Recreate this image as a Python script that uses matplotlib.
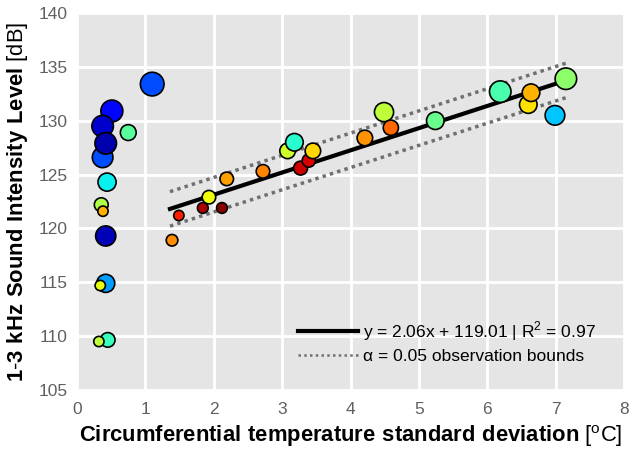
import matplotlib
matplotlib.use('Agg')
import matplotlib.pyplot as plt
from matplotlib.lines import Line2D
import numpy as np

plt.rcParams['font.family'] = 'Liberation Sans'
plt.rcParams['mathtext.fontset'] = 'custom'
plt.rcParams['mathtext.rm'] = 'Liberation Sans'
plt.rcParams['mathtext.bf'] = 'Liberation Sans:bold'

# temperature std dev [C], sound level [dB], marker size, colour value (jet)
temp_sd = [0.51, 0.375, 1.10, 0.375, 0.42, 0.75, 0.44, 0.355, 0.38, 0.42,
           0.42, 0.34, 0.45, 0.32, 1.39,
           1.49, 1.84, 2.12, 1.93, 2.19, 2.72, 3.27, 3.39, 3.45, 3.08, 3.18,
           4.21, 4.49, 4.59, 5.24, 6.19, 6.60, 6.64, 6.99, 7.15]
sound_db = [130.9, 129.5, 133.4, 126.6, 127.9, 128.9, 124.3, 122.2, 121.6, 119.3,
            114.9, 114.7, 109.65, 109.5, 118.9,
            121.2, 121.9, 121.9, 122.9, 124.6, 125.3, 125.6, 126.3, 127.2, 127.2, 128.0,
            128.4, 130.8, 129.35, 130.0, 132.7, 131.5, 132.6, 130.5, 133.9]
sizes = [250, 240, 290, 220, 240, 130, 170, 100, 55, 210,
         170, 55, 110, 55, 70,
         55, 60, 60, 95, 95, 95, 100, 90, 125, 125, 160,
         125, 190, 120, 160, 240, 160, 160, 200, 240]
cval = [0.13, 0.07, 0.2, 0.2, 0.04, 0.46, 0.36, 0.56, 0.72, 0.05,
        0.28, 0.63, 0.42, 0.58, 0.76,
        0.88, 0.96, 0.99, 0.64, 0.74, 0.77, 0.93, 0.92, 0.68, 0.6, 0.4,
        0.75, 0.58, 0.8, 0.48, 0.44, 0.67, 0.72, 0.32, 0.52]

slope, intercept, r2 = 2.06, 119.01, 0.97
bound = 1.6

fig = plt.figure(figsize=(6.3, 4.55), dpi=100)
ax = fig.add_axes([0.1222, 0.1429, 0.8683, 0.8285])
ax.set_facecolor('#e5e5e5')
for s in ax.spines.values():
    s.set_visible(False)
ax.grid(True, color='white', linewidth=2)
ax.set_axisbelow(True)

x = np.array(temp_sd)
fitx = np.array([x[x > 1.3].min() - 0.03, x.max() + 0.02])
fity = slope * fitx + intercept
ax.plot(fitx, fity, color='black', lw=3, zorder=2)
ax.plot(fitx, fity + bound, color='#707070', lw=2.5, ls=(0, (1, 1.2)), zorder=2)
ax.plot(fitx, fity - bound, color='#707070', lw=2.5, ls=(0, (1, 1.2)), zorder=2)

ax.scatter(temp_sd, sound_db, s=sizes, c=cval, cmap='jet', vmin=0, vmax=1,
           edgecolors='black', linewidths=1.2, zorder=3)

ax.set_xlim(0, 8)
ax.set_ylim(105, 140)
ax.set_xticks(range(0, 9))
ax.set_yticks(range(105, 141, 5))
ax.tick_params(length=0, labelsize=12.5, labelcolor='#606060')
ax.tick_params(axis='x', pad=9)
ax.tick_params(axis='y', pad=7)

ax.set_xlabel(r'$\mathbf{Circumferential\ temperature\ standard\ deviation}$ [$^{\rm o}$C]',
              fontsize=15.8, labelpad=4)
ax.set_ylabel(r'$\mathbf{1\text{-}3\ kHz\ Sound\ Intensity\ Level}$ [dB]',
              fontsize=15.8, labelpad=6)

handles = [Line2D([], [], color='black', lw=3),
           Line2D([], [], color='#707070', lw=1.8, ls=(0, (1, 1.3)))]
labels = ['y = %.2fx + %.2f | R$^2$ = %.2f' % (slope, intercept, r2),
          '\u03b1 = 0.05 observation bounds']
ax.legend(handles, labels, loc='lower right', bbox_to_anchor=(0.962, 0.05),
          frameon=False, fontsize=12.5, handlelength=3.5,
          handletextpad=0.3, borderaxespad=0, labelspacing=0.35)

fig.savefig('out.png', dpi=100)
